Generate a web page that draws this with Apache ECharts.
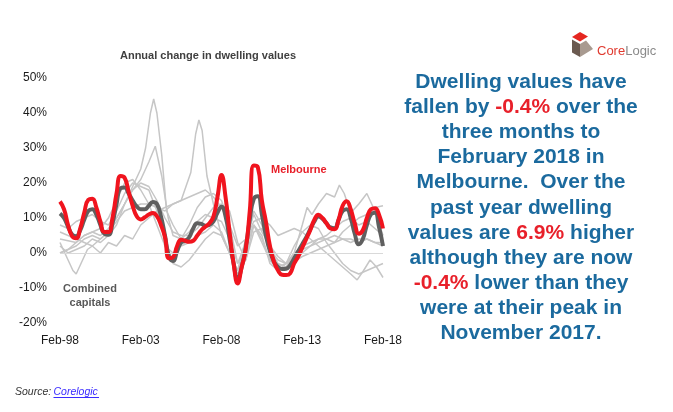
<!DOCTYPE html>
<html>
<head>
<meta charset="utf-8">
<script src="https://cdn.jsdelivr.net/npm/echarts@6/dist/echarts.min.js"></script>
<style>
  html, body { margin: 0; padding: 0; background: #ffffff; }
  #chart { width: 673px; height: 412px; }
</style>
</head>
<body>
<div id="chart"></div>
<script>
// ---- Data (annual % change in dwelling values; x = years since Feb-98) ----
const xTicks = [0, 5, 10, 15, 20];            // Feb-98 .. Feb-18
const yTicks = [-20, -10, 0, 10, 20, 30, 40, 50];

// Quarterly time grid for the two highlighted series (years since Feb-98)
const quarterT = [];
for (let i = 0; i <= 80; i++) quarterT.push(i / 4);

const melbourne = [
  14.7, 12.5, 8, 4.8, 4.2, 7, 11.5, 15.2, 15.5, 13, 9, 6, 6, 10, 17, 22, 21.5,
  17.5, 13.5, 10.5, 9.6, 10.2, 11, 11.4, 10.5, 8, 4.5, -1.5, -1.2, 2, 3.8, 3.5, 3.2,
  3.5, 5, 6.5, 7.5, 8.5, 10.4, 16, 22.3, 16, 6, -3, -8.7, -4, 1, 12, 25,
  24.5, 15, 9, 2, -2.5, -5, -6.2, -6.3, -5.8, -3, -1, 1.5, 4, 6.6, 9.5, 10.9,
  10, 8.5, 7, 6.8, 9.5, 13.5, 14.8, 12.5, 8.5, 5.5, 6.5, 10, 12.5, 12.8, 11, 7
];
const combined = [
  11.3, 10, 7.5, 5.3, 4.8, 6.5, 9.5, 12, 12.5, 11, 8, 5.5, 5.2, 8.5, 14, 18.5, 18.7,
  17, 15, 13.3, 12.5, 12.5, 13.5, 14.6, 14, 10.5, 5, -1, -2.3, 0.5, 3, 3.5, 4.5,
  7, 8.5, 8.3, 7.8, 8, 9, 11.5, 13.2, 10.5, 4, -3, -7.5, -4, 1.5, 9.5, 15.5,
  16.2, 11, 5, 0.5, -2.5, -4, -4.6, -4.5, -3.5, -1.5, 0.5, 2.5, 4.5, 6.8, 9, 10.4,
  9.8, 8.5, 7.3, 7.1, 9.5, 12, 12.5, 10, 5.5, 2.5, 4, 8, 11, 11.5, 7.5, 2
];

// Other capital cities (grey lines), key points
const hobartT = [0, 0.5, 1, 1.5, 2, 2.5, 3, 3.5, 4, 4.5, 5, 5.3, 5.6, 5.8, 6.0, 6.3, 6.6, 7, 7.5, 8, 8.5, 9, 9.5, 10, 10.5, 11, 11.5, 12, 12.5, 13, 13.5, 14, 15, 16, 17, 17.5, 18, 18.5, 19, 19.5, 20];
const hobartV = [2, 0, 1, 2, 4, 3, 5, 8, 14, 19, 24, 30, 40, 44, 40, 28, 12, 8, 4, 6, 9, 11, 10, 9, 4, -3, 3, 8, 3, -2, -5, -4, -1, 1, 3, 6, 8, 10, 11, 13, 13.5];

const brisbaneT = [0, 1, 1.5, 2, 2.5, 3, 3.5, 4, 4.5, 5, 5.5, 5.9, 6.3, 6.7, 7, 7.5, 8, 8.5, 9, 9.5, 10, 10.5, 11, 11.5, 12, 12.5, 13, 13.5, 14, 14.5, 15, 15.5, 16, 16.5, 17, 17.5, 18, 18.5, 19, 19.5, 20];
const brisbaneV = [4, 3, 5, 6, 5, 7, 10, 14, 18, 21, 26, 30.5, 22, 10, 5, 4, 8, 13, 16, 17, 15, 8, -3, 1, 8, 4, -2, -4, -3, 0, 2, 3, 4, 4, 3, 4, 4, 3, 4, 3, 3];

const perthT = [0, 0.5, 1, 1.5, 2, 2.5, 3, 3.5, 4, 4.5, 5, 5.5, 6, 6.5, 7, 7.5, 7.8, 8.1, 8.4, 8.6, 8.8, 9.1, 9.5, 10, 10.5, 11, 11.5, 12, 12.5, 13, 13.5, 14, 14.5, 15, 15.5, 16, 16.5, 17, 17.5, 18, 18.5, 19, 19.5, 20];
const perthV = [6, 5, 4, 3, 2, 4, 6, 9, 12, 13, 14, 14, 13, 12, 14, 15, 19, 23, 34, 38, 35, 22, 14, 5, 0, -6, -2, 8, 5, -3, -5, -3, 2, 6, 8, 7, 3, 0, -3, -5, -6, -5, -4, -3];

const darwinT = [0, 0.5, 0.8, 1.0, 1.3, 1.7, 2, 2.5, 3, 3.5, 4, 4.5, 5, 5.5, 6, 6.5, 7, 7.5, 8, 8.5, 9, 9.5, 10, 10.5, 11, 11.5, 12, 12.5, 13, 13.5, 14, 14.5, 15, 15.5, 16, 16.5, 17, 17.5, 18, 18.4, 18.8, 19.2, 19.6, 20];
const darwinV = [3, -2, -5, -6, -3, 1, 2, 0, 3, 2, 5, 4, 8, 10, 12, 13, 14, 15, 16, 17, 18, 16, 13, 8, 2, 4, 9, 10, 8, 5, 6, 7, 6, 4, 2, 0, -2, -4, -6, -7.7, -5, -2, -4, -7];

const sydneyT = [0, 0.5, 1, 1.5, 2, 2.5, 3, 3.5, 4, 4.5, 5, 5.5, 6, 6.5, 7, 7.5, 8, 8.5, 9, 9.5, 10, 10.5, 11, 11.5, 12, 12.5, 13, 13.5, 14, 14.5, 15, 15.3, 15.6, 16, 16.5, 17, 17.3, 17.6, 18, 18.5, 19, 19.5, 20];
const sydneyV = [8, 7, 9, 10, 11, 9, 8, 12, 17, 20, 19, 18, 12, 4, -3, -4, -2, 1, 4, 6, 5, 0, -5, 2, 12, 8, 1, -3, -4, 0, 8, 13, 11, 14, 17, 16, 19.4, 17, 11.4, 14, 17, 12, 5];

const adelaideT = [0, 1, 1.5, 2, 2.5, 3, 3.5, 4, 4.5, 5, 5.5, 6, 6.5, 7, 7.5, 8, 8.5, 9, 9.5, 10, 10.5, 11, 11.5, 12, 12.5, 13, 13.5, 14, 14.5, 15, 15.5, 16, 16.5, 17, 17.5, 18, 18.5, 19, 19.5, 20];
const adelaideV = [0, 2, 4, 5, 4, 6, 10, 14, 18, 20, 19, 15, 10, 6, 5, 5, 7, 10, 13, 14, 12, 3, -2, 6, 7, 1, -2, -3, -1, 1, 2, 3, 4, 5, 4, 3, 4, 4, 3, 2];

const canberraT = [0, 0.5, 1, 1.5, 2, 2.5, 3, 3.5, 4, 4.5, 5, 5.5, 6, 6.5, 7, 7.5, 8, 8.5, 9, 9.5, 10, 10.5, 11, 11.5, 12, 12.5, 13, 13.5, 14, 14.5, 15, 15.5, 16, 16.5, 17, 17.5, 18, 18.5, 19, 19.5, 20];
const canberraV = [0, 1, 3, 5, 6, 7, 10, 15, 20, 21, 18, 14, 8, 2, 0, 2, 3, 5, 6, 8, 6, 0, -5, 4, 11, 6, 2, -1, -3, -2, 0, 2, 4, 5, 7, 9, 10, 8, 9, 7, 5];

const greyCities = [
  ['Hobart', hobartT, hobartV],
  ['Brisbane', brisbaneT, brisbaneV],
  ['Perth', perthT, perthV],
  ['Darwin', darwinT, darwinV],
  ['Sydney', sydneyT, sydneyV],
  ['Adelaide', adelaideT, adelaideV],
  ['Canberra', canberraT, canberraV]
];

// ---- Build chart ----
const zip = (t, v) => t.map((x, i) => [x, v[i]]);
const FONT = 'Liberation Sans, Arial, sans-serif';
const BLUE = '#1b6a9e';
const RED = '#e8202a';

const series = greyCities.map(([name, t, v]) => ({
  name, type: 'line', data: zip(t, v), showSymbol: false, silent: true,
  lineStyle: { color: '#c6c6c6', width: 1.5 }, z: 2
}));
series[0].markLine = {
  silent: true, symbol: 'none', label: { show: false },
  lineStyle: { color: '#d9d9d9', width: 1, type: 'solid' },
  data: [{ yAxis: 0 }]
};
series.push({
  name: 'Combined capitals', type: 'line', data: zip(quarterT, combined),
  showSymbol: false, smooth: 0.5, silent: true,
  lineStyle: { color: '#5f5f5f', width: 4 }, z: 3
});
series.push({
  name: 'Melbourne', type: 'line', data: zip(quarterT, melbourne),
  showSymbol: false, smooth: 0.5, silent: true,
  lineStyle: { color: '#f0141e', width: 4 }, z: 4
});

const paraLines = [
  'Dwelling values have',
  'fallen by {r|-0.4%} over the',
  'three months to',
  'February 2018 in',
  'Melbourne.  Over the',
  'past year dwelling',
  'values are {r|6.9%} higher',
  'although they are now',
  '{r|-0.4%} lower than they',
  'were at their peak in',
  'November 2017.'
];

const graphics = [
  { type: 'text', x: 208, y: 56, style: { text: 'Annual change in dwelling values', font: 'bold 11px ' + FONT, fill: '#404040', textAlign: 'center', textVerticalAlign: 'middle' } },
  { type: 'text', x: 271, y: 170, style: { text: 'Melbourne', font: 'bold 11px ' + FONT, fill: RED, textAlign: 'left', textVerticalAlign: 'middle' } },
  { type: 'text', x: 90, y: 289, style: { text: 'Combined', font: 'bold 11px ' + FONT, fill: '#595959', textAlign: 'center', textVerticalAlign: 'middle' } },
  { type: 'text', x: 90, y: 302.5, style: { text: 'capitals', font: 'bold 11px ' + FONT, fill: '#595959', textAlign: 'center', textVerticalAlign: 'middle' } },
  // logo
  { type: 'polygon', shape: { points: [[580, 32], [588, 36.5], [580, 41.5], [572, 37]] }, style: { fill: '#e52620' } },
  { type: 'polygon', shape: { points: [[572, 39.5], [580, 44], [580, 57], [572, 52.5]] }, style: { fill: '#6b5a50' } },
  { type: 'polygon', shape: { points: [[580, 44], [586, 40.5], [593, 49], [580, 57]] }, style: { fill: '#a89a90' } },
  { type: 'text', x: 597, y: 51, style: { text: '{a|Core}{b|Logic}', textVerticalAlign: 'middle', rich: {
      a: { fontSize: 13, fontFamily: FONT, fill: '#e03a2f' },
      b: { fontSize: 13, fontFamily: FONT, fill: '#8a8a8a' } } } },
  // source
  { type: 'text', x: 15, y: 392, style: { text: 'Source:', font: 'italic 10.5px ' + FONT, fill: '#333333', textVerticalAlign: 'middle' } },
  { type: 'text', x: 53.5, y: 392, style: { text: 'Corelogic', font: 'italic 10.5px ' + FONT, fill: '#3a2cff', textVerticalAlign: 'middle' } },
  { type: 'line', shape: { x1: 53.5, y1: 397.5, x2: 99, y2: 397.5 }, style: { stroke: '#3a2cff', lineWidth: 1 } }
];
paraLines.forEach((txt, i) => {
  graphics.push({
    type: 'text', x: 521, y: 82 + 25.15 * i,
    style: {
      text: txt, textAlign: 'center', textVerticalAlign: 'middle',
      fontSize: 21, fontWeight: 'bold', fontFamily: FONT, fill: BLUE,
      rich: { r: { fontSize: 21, fontWeight: 'bold', fontFamily: FONT, fill: RED } }
    }
  });
});

const chart = echarts.init(document.getElementById('chart'), null, { renderer: 'canvas' });
chart.setOption({
  animation: false,
  backgroundColor: '#ffffff',
  grid: { left: 60, right: 290, top: 78, bottom: 89, containLabel: false },
  xAxis: {
    type: 'value', min: xTicks[0], max: xTicks[xTicks.length - 1], interval: 5,
    axisLine: { show: false }, axisTick: { show: false }, splitLine: { show: false },
    axisLabel: {
      margin: 12, color: '#1a1a1a', fontSize: 12, fontFamily: FONT,
      showMinLabel: true, showMaxLabel: true,
      formatter: v => 'Feb-' + String((1998 + v) % 100).padStart(2, '0')
    }
  },
  yAxis: {
    type: 'value', min: yTicks[0], max: yTicks[yTicks.length - 1], interval: 10,
    axisLine: { show: false }, axisTick: { show: false }, splitLine: { show: false },
    axisLabel: { margin: 13, color: '#1a1a1a', fontSize: 12, fontFamily: FONT, formatter: '{value}%' }
  },
  series,
  graphic: graphics
});
</script>
</body>
</html>
